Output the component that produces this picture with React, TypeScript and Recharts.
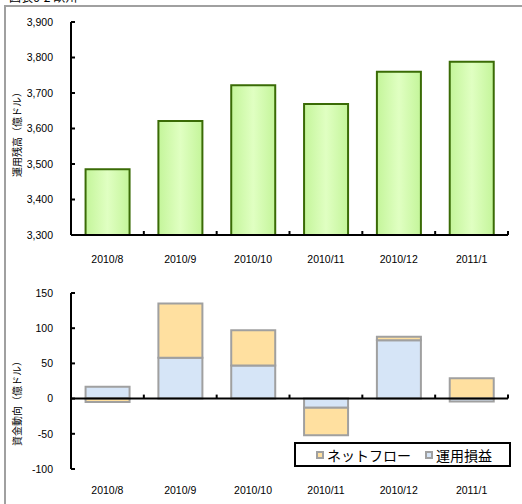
import { BarChart, Bar, XAxis, YAxis, ReferenceLine } from 'recharts';

const months = ['2010/8', '2010/9', '2010/10', '2010/11', '2010/12', '2011/1'];
const balance = [3485, 3621, 3722, 3669, 3760, 3788];
const netFlow = [-5, 77, 50, -39, 5, 29];
const profit = [17, 58, 47, -13, 83, -4];

const balanceTicks = [3300, 3400, 3500, 3600, 3700, 3800, 3900];
const flowTicks = [-100, -50, 0, 50, 100, 150];

const topData = months.map((m, i) => ({ month: m, balance: balance[i] }));
const flowData = months.map((m, i) => ({ month: m, netFlow: netFlow[i], profit: profit[i] }));

const FONT = '"Liberation Sans", Arial, "Noto Sans CJK JP", sans-serif';
const JP = '"Noto Sans CJK JP", "Liberation Sans", sans-serif';
const tickStyle = { fill: '#000', fontSize: 10.5, fontFamily: FONT };

// plot geometry shared by both charts
const W = 522;
const M_LEFT = 11;
const M_RIGHT = 14;
const Y_W = 60;
const plotW = W - M_LEFT - M_RIGHT - Y_W;

const FLOW_H = 224;
const FLOW_TOP = 13;
const FLOW_BOTTOM = 5;
const X_H = 30;
const flowPlotH = FLOW_H - FLOW_TOP - FLOW_BOTTOM - X_H;
const zeroY = FLOW_TOP + (flowPlotH * flowTicks[flowTicks.length - 1]) / (flowTicks[flowTicks.length - 1] - flowTicks[0]);

// category label + small boundary tick at the right edge of each category
const CatTick = (props: any) => {
  const { x, y, payload, lineY } = props;
  const half = payload && typeof payload.offset === 'number' && payload.offset > 0 ? payload.offset : plotW / months.length / 2;
  const bx = x + half;
  return (
    <g>
      <text x={x} y={y} dy="0.71em" textAnchor="middle" {...tickStyle}>
        {payload.value}
      </text>
      <line x1={bx} x2={bx} y1={lineY} y2={lineY - 4} stroke="#000" strokeWidth={2} />
    </g>
  );
};

const AxisTitle = ({ text, cx, cy }: { text: string; cx: number; cy: number }) => (
  <div
    style={{
      position: 'absolute',
      left: cx - 60,
      top: cy - 6,
      width: 120,
      height: 12,
      lineHeight: '12px',
      textAlign: 'center',
      fontSize: 10,
      fontFamily: JP,
      transform: 'rotate(-90deg)',
      whiteSpace: 'nowrap',
    }}
  >
    {text}
  </div>
);

const LegendItem = ({ color, label }: { color: string; label: string }) => (
  <span style={{ display: 'inline-flex', alignItems: 'center', marginRight: 14 }}>
    <span
      style={{
        display: 'inline-block',
        width: 4,
        height: 4,
        border: '2px solid #a0a0a0',
        background: color,
        marginRight: 3,
      }}
    />
    {label}
  </span>
);

export default function App() {
  return (
    <div
      style={{
        position: 'absolute',
        left: 0,
        top: 0,
        width: 522,
        height: 504,
        overflow: 'hidden',
        background: '#fff',
        fontFamily: FONT,
      }}
    >
      <div
        style={{
          position: 'absolute',
          left: 4,
          top: 5,
          width: 600,
          height: 600,
          border: '2px solid #a0a0a0',
          boxSizing: 'border-box',
        }}
      />
      <div style={{ position: 'absolute', left: 9, top: -9, fontSize: 12, lineHeight: '12px', fontFamily: JP }}>
        図表6-2 欧州
      </div>

      <AxisTitle text="運用残高（億ドル）" cx={17} cy={132} />
      <AxisTitle text="資金動向（億ドル）" cx={17} cy={401} />

      <div style={{ position: 'absolute', left: 0, top: 0 }}>
        <BarChart
          width={W}
          height={280}
          data={topData}
          margin={{ top: 22, right: M_RIGHT, bottom: 15, left: M_LEFT }}
          barCategoryGap="20%"
        >
          <defs>
            <linearGradient id="greenFill" x1="0" y1="0" x2="1" y2="0">
              <stop offset="0%" stopColor="#c4f59a" />
              <stop offset="50%" stopColor="#e0ffc2" />
              <stop offset="100%" stopColor="#c4f59a" />
            </linearGradient>
          </defs>
          <XAxis
            dataKey="month"
            height={X_H}
            axisLine={{ stroke: '#000', strokeWidth: 2 }}
            tickLine={false}
            tickSize={0}
            tickMargin={21}
            interval={0}
            tick={(p: any) => <CatTick {...p} lineY={p.y - 21} />}
          />
          <YAxis
            width={Y_W}
            domain={[3300, 3900]}
            ticks={balanceTicks}
            allowDataOverflow
            tickFormatter={(v: number) => v.toLocaleString('en-US')}
            axisLine={{ stroke: '#000', strokeWidth: 2 }}
            tickLine={{ stroke: '#000', strokeWidth: 2 }}
            tickSize={-4}
            tickMargin={22}
            tick={tickStyle}
          />
          <Bar dataKey="balance" fill="url(#greenFill)" stroke="#3a6b06" strokeWidth={2} isAnimationActive={false} />
        </BarChart>
      </div>

      <div style={{ position: 'absolute', left: 0, top: 280 }}>
        <BarChart
          width={W}
          height={FLOW_H}
          data={flowData}
          margin={{ top: FLOW_TOP, right: M_RIGHT, bottom: FLOW_BOTTOM, left: M_LEFT }}
          barCategoryGap="20%"
          stackOffset="sign"
        >
          <XAxis
            dataKey="month"
            height={X_H}
            axisLine={false}
            tickLine={false}
            tickSize={0}
            tickMargin={18}
            interval={0}
            tick={(p: any) => <CatTick {...p} lineY={zeroY} />}
          />
          <YAxis
            width={Y_W}
            domain={[-100, 150]}
            ticks={flowTicks}
            allowDataOverflow
            axisLine={{ stroke: '#000', strokeWidth: 2 }}
            tickLine={{ stroke: '#000', strokeWidth: 2 }}
            tickSize={-4}
            tickMargin={22}
            tick={tickStyle}
          />
          <Bar dataKey="profit" stackId="s" fill="#d6e5f7" stroke="#a0a0a0" strokeWidth={2} isAnimationActive={false} />
          <Bar dataKey="netFlow" stackId="s" fill="#ffe0a0" stroke="#a0a0a0" strokeWidth={2} isAnimationActive={false} />
          <ReferenceLine y={0} stroke="#000" strokeWidth={2} />
        </BarChart>
      </div>

      <div
        style={{
          position: 'absolute',
          left: 294,
          top: 442,
          width: 217,
          height: 25,
          border: '2px solid #000',
          boxSizing: 'border-box',
          background: '#fff',
          display: 'flex',
          alignItems: 'center',
          paddingLeft: 20,
          fontSize: 14,
          fontFamily: JP,
          lineHeight: '14px',
        }}
      >
        <LegendItem color="#ffe0a0" label="ネットフロー" />
        <LegendItem color="#d6e5f7" label="運用損益" />
      </div>
    </div>
  );
}
